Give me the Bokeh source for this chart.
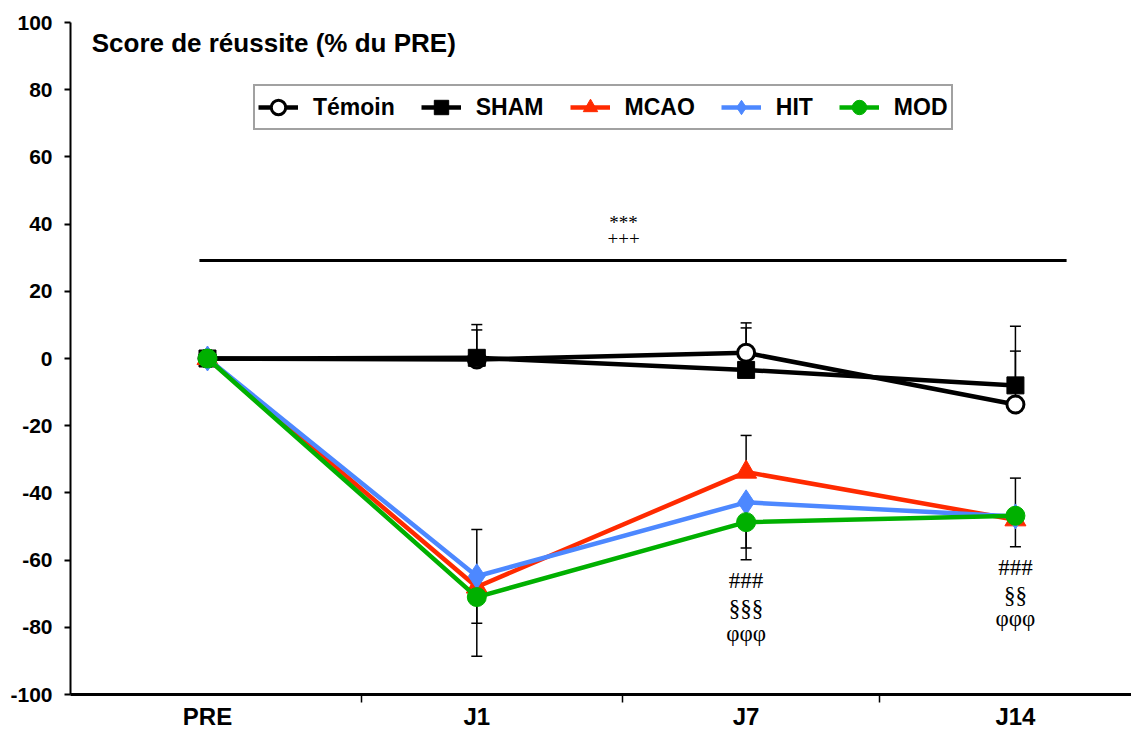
from bokeh.plotting import figure
from bokeh.models import (ColumnDataSource, Whisker, TeeHead, Legend, LegendItem,
                          Label, FixedTicker)
from bokeh.core.properties import value
from bokeh.embed import file_html
from bokeh.resources import INLINE

# ---------------- data ----------------
categories = ["PRE", "J1", "J7", "J14"]
x_pos = [0, 1, 2, 3]

temoin = [0, -0.3, 1.7, -13.7]
sham = [0, 0.2, -3.4, -8.0]
mcao = [0, -68.0, -33.8, -48.0]
hit = [0, -64.8, -42.8, -47.0]
mod = [0, -71.0, -48.7, -46.8]

# one-sided error bars (0 = not drawn)
temoin_up = [0, 10.4, 8.9, 15.9]
temoin_dn = [0, 0, 0, 0]
sham_up = [0, 8.3, 12.5, 17.6]
sham_dn = [0, 0, 0, 0]
mcao_up = [0, 0, 10.9, 0]
mcao_dn = [0, 10.8, 0, 8.0]
hit_up = [0, 13.9, 0, 0]
hit_dn = [0, 0, 13.6, 0]
mod_up = [0, 0, 0, 11.2]
mod_dn = [0, 17.6, 11.2, 0]

title_text = "Score de réussite (% du PRE)"
y_ticks = [-100, -80, -60, -40, -20, 0, 20, 40, 60, 80, 100]
y_tick_labels = ["-100", "-80", "-60", "-40", "-20", "0", "20", "40", "60", "80", "100"]
cat_boundaries = [0.572, 1.541, 2.495]

# global significance bar
sig_bar_x = [-0.03, 3.19]
sig_bar_y = 29.2
sig_labels = ["***", "+++"]
sig_label_x = 1.545
sig_label_y = [40.5, 35.7]

# per-timepoint annotations
ann_x = [2, 2, 2, 3, 3, 3]
ann_y = [-66.0, -74.4, -81.8, -62.2, -70.5, -77.4]
ann_text = ["###", "§§§", "φφφ", "###", "§§", "φφφ"]

RED = "#ff2a00"
BLUE = "#4d88ff"
GREEN = "#00b000"
SANS = "Liberation Sans"
SERIF = "Liberation Serif"

p = figure(width=1131, height=732, output_backend="svg", toolbar_location=None,
           x_range=(-0.5087, 3.431), y_range=(-100, 100),
           min_border_left=70, min_border_right=0, min_border_top=22,
           min_border_bottom=20)
p.outline_line_color = None
p.xgrid.visible = False
p.ygrid.visible = False
p.background_fill_color = "white"
p.border_fill_color = "white"

# axes
p.yaxis.ticker = FixedTicker(ticks=y_ticks)
p.yaxis.major_label_overrides = {t: s for t, s in zip(y_ticks, y_tick_labels)}
p.yaxis.axis_line_width = 2
p.yaxis.major_tick_out = 6
p.yaxis.major_tick_in = 0
p.yaxis.major_tick_line_width = 2
p.yaxis.minor_tick_line_color = None
p.yaxis.major_label_text_font = SANS
p.yaxis.major_label_text_font_style = "bold"
p.yaxis.major_label_text_font_size = "21px"
p.yaxis.major_label_text_color = "black"
p.yaxis.major_label_standoff = 12

p.xaxis.ticker = FixedTicker(ticks=x_pos, minor_ticks=cat_boundaries)
p.xaxis.major_label_overrides = {x: c for x, c in zip(x_pos, categories)}
p.xaxis.axis_line_width = 3
p.xaxis.major_tick_out = 0
p.xaxis.major_tick_in = 0
p.xaxis.minor_tick_out = 8
p.xaxis.minor_tick_in = 0
p.xaxis.minor_tick_line_width = 1.5
p.xaxis.minor_tick_line_color = "black"
p.xaxis.major_label_text_font = SANS
p.xaxis.major_label_text_font_style = "bold"
p.xaxis.major_label_text_font_size = "24px"
p.xaxis.major_label_text_color = "black"
p.xaxis.major_label_standoff = 0


def add_errors(y, up, dn):
    ub = [x for x, e in zip(x_pos, up) if e > 0]
    if ub:
        src = ColumnDataSource(dict(base=ub,
                                    lower=[v for v, e in zip(y, up) if e > 0],
                                    upper=[v + e for v, e in zip(y, up) if e > 0]))
        w = Whisker(source=src, base="base", lower="lower", upper="upper",
                    line_color="black", line_width=1.5, lower_head=None,
                    upper_head=TeeHead(size=11, line_width=1.5, line_color="black"))
        p.add_layout(w)
    db = [x for x, e in zip(x_pos, dn) if e > 0]
    if db:
        src = ColumnDataSource(dict(base=db,
                                    upper=[v for v, e in zip(y, dn) if e > 0],
                                    lower=[v - e for v, e in zip(y, dn) if e > 0]))
        w = Whisker(source=src, base="base", lower="lower", upper="upper",
                    line_color="black", line_width=1.5, upper_head=None,
                    lower_head=TeeHead(size=11, line_width=1.5, line_color="black"))
        p.add_layout(w)


for y, up, dn in [(temoin, temoin_up, temoin_dn), (sham, sham_up, sham_dn),
                  (mcao, mcao_up, mcao_dn), (hit, hit_up, hit_dn), (mod, mod_up, mod_dn)]:
    add_errors(y, up, dn)

series = [
    ("Témoin", temoin, "black", "circle", "white", 17),
    ("SHAM", sham, "black", "square", "black", 17),
    ("MCAO", mcao, RED, "triangle", RED, 21),
    ("HIT", hit, BLUE, "diamond", BLUE, 25),
    ("MOD", mod, GREEN, "circle", GREEN, 19),
]

items = []
for name, y, col, marker, fill, size in series:
    l = p.line(x_pos, y, line_color=col, line_width=4.5)
    s = p.scatter(x_pos, y, marker=marker, size=size, fill_color=fill,
                  line_color=col, line_width=3 if fill == "white" else 1)
    items.append(LegendItem(label=name, renderers=[l, s]))

# significance bar and labels
p.segment(x0=[sig_bar_x[0]], y0=[sig_bar_y], x1=[sig_bar_x[1]], y1=[sig_bar_y],
          line_color="black", line_width=3)
p.text(x=[sig_label_x] * 2, y=sig_label_y, text=sig_labels, text_align="center",
       text_baseline="middle", text_font=value(SERIF), text_font_size="19px",
       text_color="black")

p.text(x=ann_x, y=ann_y, text=ann_text, text_align="center", text_baseline="middle",
       text_font=value(SERIF), text_font_size="23px", text_color="black")

p.add_layout(Label(x=-0.43, y=94, text=title_text, text_font=SANS,
                   text_font_style="bold", text_font_size="26px",
                   text_baseline="middle", text_color="black"))

legend = Legend(items=items, orientation="horizontal", location=(183, 564),
                label_text_font=SANS, label_text_font_style="bold",
                label_text_font_size="23px", label_text_color="black",
                glyph_width=40, glyph_height=36, label_standoff=15, spacing=26,
                padding=3, border_line_color="#444444", border_line_width=2,
                background_fill_color="white", background_fill_alpha=1)
p.add_layout(legend)

open("out.html", "w").write(file_html(p, INLINE))
